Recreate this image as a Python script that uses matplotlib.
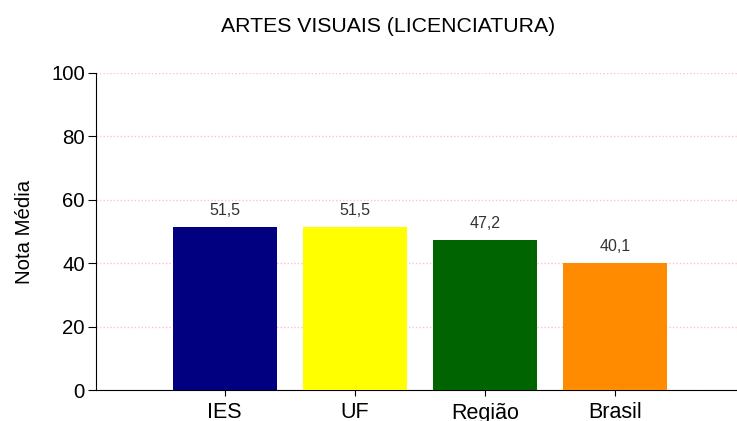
import matplotlib.pyplot as plt

plt.rcParams['font.family'] = ['Liberation Sans', 'DejaVu Sans']

categories = ['IES', 'UF', 'Região', 'Brasil']
values = [51.5, 51.5, 47.2, 40.1]
colors = ['#000080', '#ffff00', '#006400', '#ff8c00']

fig = plt.figure(figsize=(7.37, 4.21), dpi=100)
ax = fig.add_axes([96 / 737, 31 / 421, 641 / 737, 317 / 421])

x = range(len(categories))
bars = ax.bar(x, values, width=0.8, color=colors, zorder=3)
for xi, v in zip(x, values):
    ax.text(xi, v + 2.8, f'{v:.1f}'.replace('.', ','), ha='center', va='bottom',
            fontsize=11.5, color='#333333')

ax.set_xlim(-0.99, 3.94)
ax.set_ylim(0, 100)
ax.set_yticks([0, 20, 40, 60, 80, 100])
ax.set_xticks(list(x))
ax.set_xticklabels(categories)
ax.tick_params(axis='y', labelsize=14.7, length=6, pad=2)
ax.tick_params(axis='x', labelsize=15.5, length=4, pad=5)
ax.yaxis.grid(True, color='#ffc0cb', linestyle=(0, (1, 1.5)), linewidth=1, zorder=0)
ax.spines['top'].set_visible(False)
ax.spines['right'].set_visible(False)
ax.set_ylabel('Nota Média', fontsize=14.7, labelpad=12)

fig.text(388 / 737, 1 - 27 / 421, 'ARTES VISUAIS (LICENCIATURA)', ha='center', va='center',
         fontsize=15.3)

fig.savefig('out.png', dpi=100)
